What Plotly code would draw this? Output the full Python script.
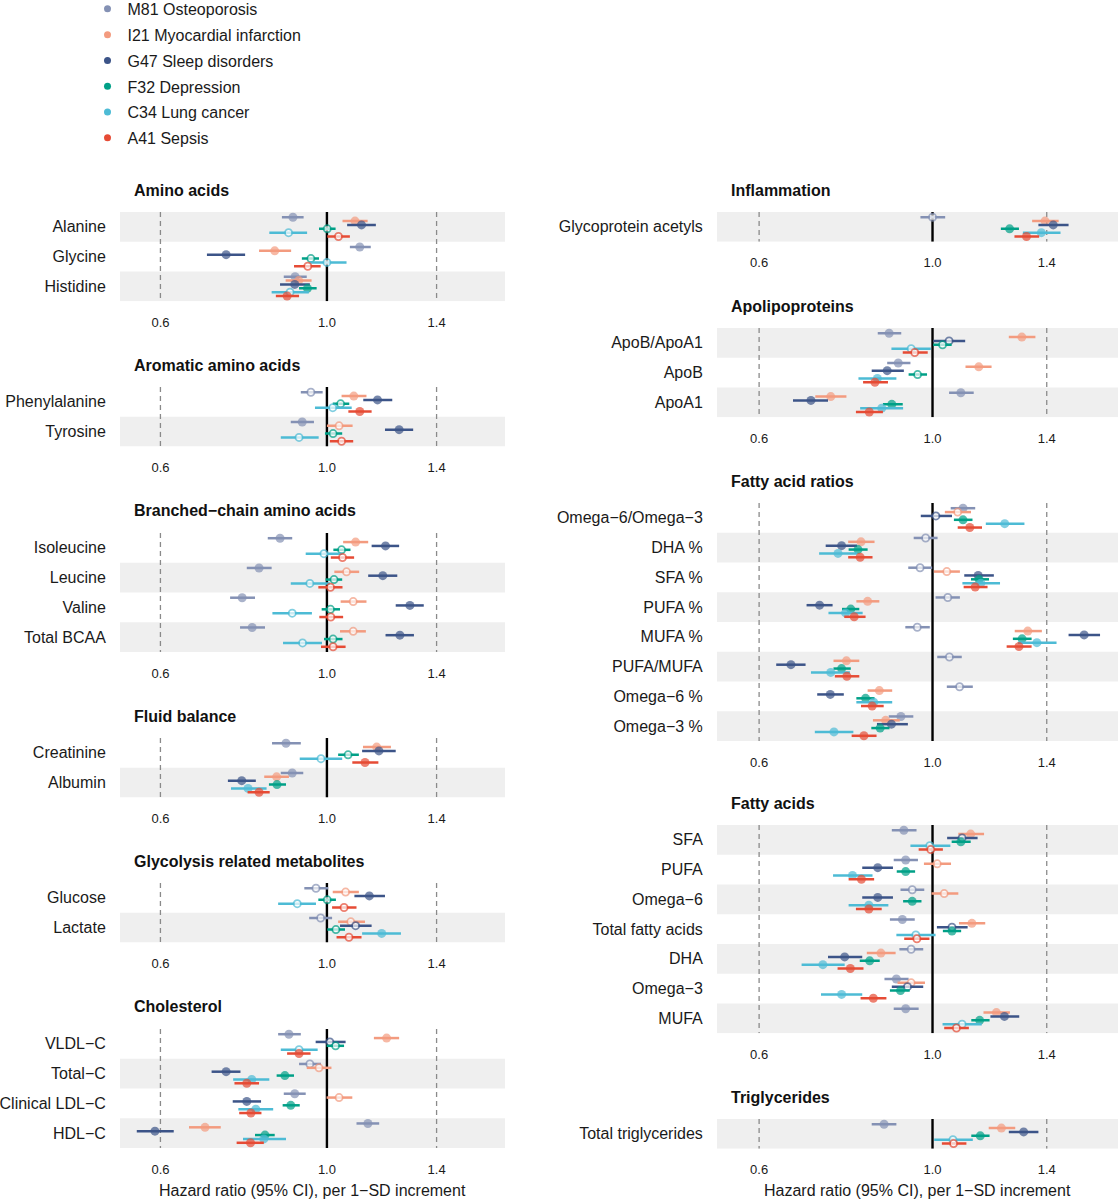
import math
import plotly.graph_objects as go

# ---------------- data ----------------
diseases = ["M81 Osteoporosis", "I21 Myocardial infarction", "G47 Sleep disorders",
            "F32 Depression", "C34 Lung cancer", "A41 Sepsis"]
colors = ["#8491B4", "#F39B7F", "#3C5488", "#00A087", "#4DBBD5", "#E64B35"]

groups = ["Amino acids", "Aromatic amino acids", "Branched\u2212chain amino acids",
          "Fluid balance", "Glycolysis related metabolites", "Cholesterol",
          "Inflammation", "Apolipoproteins", "Fatty acid ratios", "Fatty acids",
          "Triglycerides"]
group_sizes = [3, 2, 4, 2, 2, 4, 1, 3, 8, 7, 1]

metabolites = [
    "Alanine", "Glycine", "Histidine",
    "Phenylalanine", "Tyrosine",
    "Isoleucine", "Leucine", "Valine", "Total BCAA",
    "Creatinine", "Albumin",
    "Glucose", "Lactate",
    "VLDL\u2212C", "Total\u2212C", "Clinical LDL\u2212C", "HDL\u2212C",
    "Glycoprotein acetyls",
    "ApoB/ApoA1", "ApoB", "ApoA1",
    "Omega\u22126/Omega\u22123", "DHA %", "SFA %", "PUFA %", "MUFA %", "PUFA/MUFA",
    "Omega\u22126 %", "Omega\u22123 %",
    "SFA", "PUFA", "Omega\u22126", "Total fatty acids", "DHA", "Omega\u22123", "MUFA",
    "Total triglycerides",
]

hr_m81 = [0.901, 1.106, 0.907, 0.952, 0.927, 0.866, 0.812, 0.771, 0.795, 0.882, 0.899,
          0.967, 0.981, 0.890, 0.949, 0.906, 1.134, 1.000, 0.880, 0.904, 1.087, 1.094,
          0.980, 0.964, 1.046, 0.956, 1.051, 1.083, 0.911, 0.919, 0.924, 0.942, 0.915,
          0.939, 0.899, 0.924, 0.867]
lo_m81 = [0.871, 1.073, 0.876, 0.923, 0.895, 0.834, 0.782, 0.743, 0.766, 0.845, 0.868,
          0.933, 0.947, 0.861, 0.918, 0.876, 1.095, 0.965, 0.851, 0.875, 1.050, 1.055,
          0.946, 0.931, 1.009, 0.923, 1.014, 1.043, 0.879, 0.887, 0.892, 0.910, 0.882,
          0.907, 0.868, 0.892, 0.836]
hi_m81 = [0.931, 1.144, 0.940, 0.987, 0.961, 0.899, 0.844, 0.802, 0.827, 0.923, 0.930,
          1.004, 1.016, 0.923, 0.982, 0.937, 1.174, 1.038, 0.912, 0.937, 1.129, 1.134,
          1.015, 0.999, 1.084, 0.992, 1.090, 1.126, 0.945, 0.954, 0.958, 0.976, 0.949,
          0.973, 0.932, 0.960, 0.899]
sig_m81 = [1, 1, 1, 0, 1, 1, 1, 1, 1, 1, 1, 0, 0, 1, 0, 1, 1, 0, 1, 1, 1, 1,
           0, 0, 0, 0, 0, 0, 1, 1, 1, 0, 1, 0, 1, 1, 1]

hr_i21 = [1.090, 0.852, 0.917, 1.086, 1.038, 1.092, 1.062, 1.084, 1.084, 1.165, 0.857,
          1.059, 1.076, 1.201, 0.976, 1.038, 0.688, 1.393, 1.301, 1.146, 0.741, 1.077,
          0.810, 1.043, 0.826, 1.324, 0.776, 0.855, 0.871, 1.119, 1.014, 1.035, 1.123,
          0.859, 0.939, 1.207, 1.225]
lo_i21 = [1.049, 0.812, 0.881, 1.046, 1.000, 1.051, 1.023, 1.043, 1.041, 1.117, 0.825,
          1.018, 1.035, 1.155, 0.940, 0.999, 0.655, 1.341, 1.252, 1.102, 0.708, 1.037,
          0.780, 1.004, 0.799, 1.274, 0.747, 0.826, 0.839, 1.079, 0.975, 0.997, 1.081,
          0.824, 0.902, 1.162, 1.180]
hi_i21 = [1.133, 0.896, 0.954, 1.129, 1.082, 1.135, 1.104, 1.129, 1.127, 1.217, 0.890,
          1.103, 1.124, 1.248, 1.014, 1.081, 0.722, 1.450, 1.354, 1.190, 0.776, 1.120,
          0.843, 1.084, 0.855, 1.380, 0.806, 0.888, 0.908, 1.164, 1.056, 1.079, 1.168,
          0.897, 0.978, 1.256, 1.276]
sig_i21 = [1, 1, 1, 1, 0, 1, 0, 0, 0, 1, 1, 0, 0, 1, 0, 0, 1, 1, 1, 1, 1, 0,
           1, 0, 1, 1, 1, 1, 1, 1, 0, 0, 1, 1, 0, 1, 1]

hr_g47 = [1.112, 0.734, 0.906, 1.168, 1.248, 1.197, 1.187, 1.290, 1.251, 1.173, 0.770,
          1.139, 1.092, 1.009, 0.734, 0.782, 0.590, 1.427, 1.050, 0.875, 0.699, 1.010,
          0.765, 1.144, 0.717, 1.563, 0.659, 0.740, 0.886, 1.091, 0.851, 0.851, 1.059,
          0.772, 0.929, 1.236, 1.308]
lo_g47 = [1.064, 0.692, 0.866, 1.118, 1.195, 1.147, 1.135, 1.235, 1.197, 1.114, 0.738,
          1.088, 1.041, 0.966, 0.702, 0.749, 0.558, 1.366, 1.002, 0.836, 0.663, 0.966,
          0.730, 1.098, 0.690, 1.493, 0.631, 0.712, 0.849, 1.044, 0.813, 0.813, 1.013,
          0.735, 0.887, 1.186, 1.252]
hi_g47 = [1.162, 0.778, 0.949, 1.222, 1.303, 1.248, 1.241, 1.346, 1.306, 1.235, 0.804,
          1.195, 1.147, 1.059, 0.767, 0.817, 0.625, 1.493, 1.101, 0.919, 0.735, 1.059,
          0.801, 1.198, 0.745, 1.638, 0.688, 0.770, 0.930, 1.142, 0.890, 0.890, 1.109,
          0.813, 0.973, 1.291, 1.366]
sig_g47 = [1, 1, 1, 1, 1, 1, 1, 1, 1, 1, 1, 1, 0, 0, 1, 1, 1, 1, 0, 1, 1, 0,
           1, 1, 1, 1, 1, 1, 1, 0, 1, 1, 0, 1, 0, 1, 1]

hr_f32 = [1.001, 0.952, 0.942, 1.043, 1.019, 1.046, 1.022, 1.011, 1.019, 1.067, 0.858,
          1.001, 1.028, 1.027, 0.879, 0.895, 0.827, 1.255, 1.030, 0.957, 0.887, 1.094,
          0.803, 1.147, 0.786, 1.302, 0.765, 0.821, 0.857, 1.087, 0.924, 0.942, 1.059,
          0.831, 0.910, 1.149, 1.151]
lo_f32 = [0.976, 0.926, 0.918, 1.018, 0.994, 1.020, 0.996, 0.984, 0.991, 1.035, 0.837,
          0.974, 1.001, 0.999, 0.857, 0.873, 0.802, 1.223, 1.002, 0.932, 0.864, 1.065,
          0.781, 1.120, 0.766, 1.267, 0.747, 0.799, 0.835, 1.058, 0.900, 0.917, 1.031,
          0.807, 0.882, 1.121, 1.121]
hi_f32 = [1.027, 0.976, 0.969, 1.071, 1.048, 1.075, 1.048, 1.041, 1.049, 1.103, 0.882,
          1.028, 1.057, 1.054, 0.904, 0.920, 0.852, 1.290, 1.058, 0.984, 0.916, 1.125,
          0.826, 1.181, 0.806, 1.339, 0.786, 0.843, 0.881, 1.119, 0.950, 0.968, 1.088,
          0.856, 0.935, 1.183, 1.183]
sig_f32 = [0, 0, 1, 0, 0, 0, 0, 0, 0, 0, 1, 0, 0, 0, 1, 1, 1, 1, 0, 0, 1, 1,
           1, 1, 1, 1, 1, 1, 1, 1, 1, 1, 1, 1, 1, 1, 1]

hr_c34 = [0.889, 1.000, 0.893, 1.018, 0.918, 0.991, 0.949, 0.899, 0.928, 0.982, 0.785,
          0.913, 1.183, 0.918, 0.794, 0.804, 0.824, 1.378, 0.939, 0.850, 0.861, 1.237,
          0.757, 1.153, 0.774, 1.360, 0.741, 0.841, 0.748, 0.992, 0.790, 0.829, 0.952,
          0.724, 0.765, 1.091, 1.062]
lo_c34 = [0.838, 0.949, 0.844, 0.964, 0.868, 0.937, 0.895, 0.846, 0.874, 0.920, 0.745,
          0.861, 1.114, 0.868, 0.750, 0.762, 0.773, 1.305, 0.886, 0.804, 0.808, 1.170,
          0.716, 1.092, 0.736, 1.286, 0.699, 0.799, 0.707, 0.937, 0.746, 0.781, 0.899,
          0.680, 0.720, 1.030, 1.005]
hi_c34 = [0.941, 1.062, 0.946, 1.079, 0.975, 1.049, 1.009, 0.955, 0.985, 1.048, 0.831,
          0.967, 1.255, 0.972, 0.838, 0.848, 0.882, 1.458, 0.995, 0.899, 0.917, 1.311,
          0.801, 1.220, 0.814, 1.441, 0.784, 0.888, 0.792, 1.054, 0.838, 0.878, 1.009,
          0.772, 0.813, 1.156, 1.126]
sig_c34 = [0, 0, 0, 0, 0, 0, 0, 0, 0, 0, 1, 0, 1, 0, 1, 1, 1, 1, 0, 1, 1, 1,
           1, 1, 1, 1, 1, 1, 1, 0, 1, 1, 0, 1, 1, 0, 0]

hr_a41 = [1.036, 0.943, 0.885, 1.106, 1.046, 1.049, 1.011, 1.012, 1.019, 1.124, 0.812,
          1.054, 1.070, 0.918, 0.782, 0.792, 0.791, 1.319, 0.949, 0.844, 0.830, 1.116,
          0.808, 1.134, 0.794, 1.290, 0.777, 0.837, 0.817, 0.995, 0.811, 0.829, 0.955,
          0.785, 0.840, 1.073, 1.064]
lo_a41 = [1.001, 0.904, 0.855, 1.068, 1.009, 1.012, 0.974, 0.977, 0.982, 1.081, 0.784,
          1.016, 1.030, 0.885, 0.753, 0.764, 0.758, 1.273, 0.916, 0.815, 0.798, 1.077,
          0.780, 1.096, 0.771, 1.244, 0.750, 0.810, 0.788, 0.960, 0.781, 0.798, 0.920,
          0.756, 0.809, 1.035, 1.028]
hi_a41 = [1.073, 0.981, 0.918, 1.147, 1.084, 1.087, 1.049, 1.051, 1.059, 1.171, 0.839,
          1.095, 1.112, 0.951, 0.812, 0.818, 0.824, 1.369, 0.986, 0.877, 0.864, 1.157,
          0.838, 1.176, 0.821, 1.339, 0.806, 0.866, 0.848, 1.031, 0.842, 0.861, 0.991,
          0.816, 0.873, 1.113, 1.105]
sig_a41 = [0, 0, 1, 1, 0, 0, 0, 0, 0, 1, 1, 0, 0, 1, 1, 1, 1, 1, 0, 1, 1, 1,
           1, 1, 1, 1, 1, 1, 1, 0, 1, 1, 0, 1, 1, 0, 0]

hr_all = [hr_m81, hr_i21, hr_g47, hr_f32, hr_c34, hr_a41]
lo_all = [lo_m81, lo_i21, lo_g47, lo_f32, lo_c34, lo_a41]
hi_all = [hi_m81, hi_i21, hi_g47, hi_f32, hi_c34, hi_a41]
sig_all = [sig_m81, sig_i21, sig_g47, sig_f32, sig_c34, sig_a41]

tick_vals = [0.6, 1.0, 1.4]
tick_text = ["0.6", "1.0", "1.4"]
ref_dashed = [0.6, 1.4]
ref_solid = 1.0
x_limits = [0.53, 1.727]
axis_title = "Hazard ratio (95% CI), per 1\u2212SD increment"

# ---------------- layout constants ----------------
W, H = 1118, 1200
FONT = "Liberation Sans, Arial, Helvetica, sans-serif"
col_px = [(120, 505), (717, 1118)]
panel_col = [0, 0, 0, 0, 0, 0, 1, 1, 1, 1, 1]
panel_top = [212, 387, 533, 738, 883, 1029, 212, 328, 503, 825, 1119]
row_h = 29.75
dodge = 0.13

fig = go.Figure()
layout_axes = {}
shapes = []
annotations = []

start = 0
for p, (gname, n) in enumerate(zip(groups, group_sizes)):
    ax = p + 1
    xname = "x" if ax == 1 else f"x{ax}"
    yname = "y" if ax == 1 else f"y{ax}"
    c0, c1 = col_px[panel_col[p]]
    top = panel_top[p]
    bot = top + n * row_h
    idx = list(range(start, start + n))
    start += n

    layout_axes["xaxis" if ax == 1 else f"xaxis{ax}"] = dict(
        domain=[c0 / W, c1 / W], anchor=yname, type="log",
        range=[math.log10(x_limits[0]), math.log10(x_limits[1])],
        tickvals=tick_vals, ticktext=tick_text, showgrid=False, zeroline=False,
        showline=False, ticks="outside", ticklen=9, tickcolor="rgba(0,0,0,0)",
        tickfont=dict(size=13, color="#1a1a1a", family=FONT), fixedrange=True)
    layout_axes["yaxis" if ax == 1 else f"yaxis{ax}"] = dict(
        domain=[1 - bot / H, 1 - top / H], anchor=xname,
        range=[n - 0.5, -0.5], tickvals=list(range(n)),
        ticktext=[metabolites[i] for i in idx], showgrid=False, zeroline=False,
        showline=False, ticks="outside", ticklen=10, tickcolor="rgba(0,0,0,0)",
        tickfont=dict(size=16, color="#1a1a1a", family=FONT), fixedrange=True)

    # alternating row shading (bottom row shaded)
    for r in range(n):
        if (n - 1 - r) % 2 == 0:
            shapes.append(dict(type="rect", xref=f"{xname} domain", yref=yname,
                               x0=0, x1=1, y0=r - 0.5, y1=r + 0.5,
                               fillcolor="#EFEFEF", line=dict(width=0), layer="below"))

    # reference lines
    for v in ref_dashed:
        fig.add_trace(go.Scatter(x=[v, v], y=[-0.5, n - 0.5], mode="lines",
                                 line=dict(color="#8a8a8a", width=1.3, dash="5px,4px"),
                                 xaxis=xname, yaxis=yname, showlegend=False,
                                 hoverinfo="skip"))
    fig.add_trace(go.Scatter(x=[ref_solid, ref_solid], y=[-0.5, n - 0.5], mode="lines",
                             line=dict(color="black", width=2.4),
                             xaxis=xname, yaxis=yname, showlegend=False, hoverinfo="skip"))

    # data
    for k in range(len(diseases)):
        hr = [hr_all[k][i] for i in idx]
        lo = [lo_all[k][i] for i in idx]
        hi = [hi_all[k][i] for i in idx]
        sg = [sig_all[k][i] for i in idx]
        ys = [r + (k - 2.5) * dodge for r in range(n)]
        fig.add_trace(go.Scatter(
            x=hr, y=ys, mode="markers", xaxis=xname, yaxis=yname,
            name=diseases[k], showlegend=False,
            error_x=dict(type="data", symmetric=False,
                         array=[h - m for h, m in zip(hi, hr)],
                         arrayminus=[m - l for m, l in zip(hr, lo)],
                         color=colors[k], thickness=2.5, width=0),
            marker=dict(size=[9 if s else 7.2 for s in sg],
                        color=[colors[k] if s else "white" for s in sg],
                        line=dict(color=colors[k], width=[0 if s else 1.8 for s in sg])),
        ))

    # panel title
    annotations.append(dict(text=f"<b>{gname}</b>", xref="paper", yref="paper",
                            x=(c0 + 12) / W, y=1 - (top - 22) / H, xanchor="left",
                            yanchor="middle", showarrow=False,
                            font=dict(size=16, color="#111111", family=FONT)))

# axis titles under the bottom panels
for c0, c1 in col_px:
    annotations.append(dict(text=axis_title, xref="paper", yref="paper",
                            x=(c0 + c1) / 2 / W, y=1 - 1190 / H, xanchor="center",
                            yanchor="middle", showarrow=False,
                            font=dict(size=16, color="#1a1a1a", family=FONT)))

# legend entries
for k in range(len(diseases)):
    fig.add_trace(go.Scatter(x=[None], y=[None], mode="markers", name=diseases[k],
                             marker=dict(size=7, color=colors[k]), xaxis="x", yaxis="y",
                             legendgroup=diseases[k], showlegend=True))

fig.update_layout(
    width=W, height=H, margin=dict(l=0, r=0, t=0, b=0, autoexpand=False),
    paper_bgcolor="white", plot_bgcolor="rgba(0,0,0,0)",
    font=dict(family=FONT, color="#1a1a1a"),
    shapes=shapes, annotations=annotations,
    showlegend=True,
    legend=dict(x=87.5 / W, y=1.0067, xanchor="left", yanchor="top",
                font=dict(size=16, family=FONT, color="#1a1a1a"),
                traceorder="grouped", tracegroupgap=2, bgcolor="rgba(0,0,0,0)",
                itemclick=False, itemdoubleclick=False),
    **layout_axes,
)

fig.write_html("out.html", config={"displayModeBar": False},
               post_script="document.body.style.margin='0px';"
                           "document.documentElement.style.overflow='hidden';")
